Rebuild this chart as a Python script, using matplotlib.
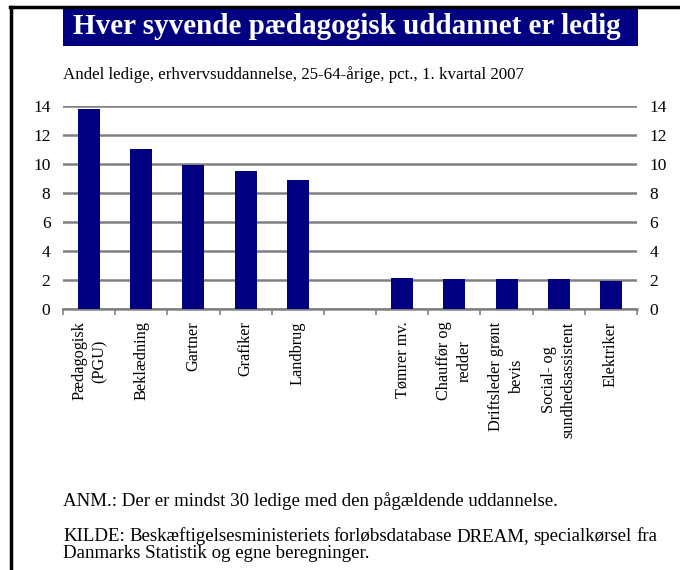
import matplotlib
matplotlib.use('Agg')
import matplotlib.pyplot as plt
from matplotlib.lines import Line2D
from matplotlib.patches import Rectangle
import numpy as np

# data
categories = ['Pædagogisk\n(PGU)', 'Beklædning', 'Gartner', 'Grafiker', 'Landbrug', '',
              'Tømrer mv.', 'Chauffør og\nredder', 'Driftsleder grønt\nbevis',
              'Social- og\nsundhedsassistent', 'Elektriker']
values = [13.8, 11.0, 9.9, 9.5, 8.9, np.nan, 2.15, 2.1, 2.1, 2.05, 1.95]
yticks = [0, 2, 4, 6, 8, 10, 12, 14]

title = 'Hver syvende pædagogisk uddannet er ledig'
subtitle = 'Andel ledige, erhvervsuddannelse, 25-64-årige, pct., 1. kvartal 2007'
note = 'ANM.: Der er mindst 30 ledige med den pågældende uddannelse.'
source1 = 'KILDE: Beskæftigelsesministeriets forløbsdatabase DREAM, specialkørsel fra'
source2 = 'Danmarks Statistik og egne beregninger.'

NAVY = '#000080'
GRID = '#808080'
W, H = 680, 570

plt.rcParams['font.family'] = ['Liberation Serif', 'DejaVu Serif']

fig = plt.figure(figsize=(W / 100, H / 100), dpi=100)

# frame: top and left black rules
fig.add_artist(Line2D([10 / W, 1], [1 - 6.5 / H, 1 - 6.5 / H], color='black', lw=2.5,
                      transform=fig.transFigure))
fig.add_artist(Line2D([11 / W, 11 / W], [0, 1 - 6.5 / H], color='black', lw=2.5,
                      transform=fig.transFigure))

# title box
fig.add_artist(Rectangle((63 / W, 1 - 46 / H), (638 - 63) / W, 38 / H,
                         facecolor=NAVY, edgecolor='none', transform=fig.transFigure))
fig.text(73 / W, 1 - 27 / H, title, color='white', fontsize=21, fontweight='bold',
         va='center', ha='left')
fig.text(63 / W, 1 - 75 / H, subtitle, fontsize=12.2, va='center', ha='left')

ax = fig.add_axes([63 / W, 1 - 309 / H, (637 - 63) / W, (309 - 105.7) / H])
x = np.arange(len(categories))
ax.bar(x, values, width=0.42, color=NAVY, zorder=3)

ax.set_xlim(-0.5, len(categories) - 0.5)
ax.set_ylim(0, 14)
ax.set_yticks(yticks)
ax.yaxis.grid(True, color=GRID, lw=1.8, zorder=0)
ax.tick_params(axis='y', length=0, labelsize=12.5, pad=9, labelright=True, right=False)

ax.set_xticks(x)
ax.set_xticklabels(categories, rotation=90, fontsize=11.7, va='top', ha='center',
                   multialignment='center', linespacing=1.35)
ax.set_xticks(np.arange(len(categories) + 1) - 0.5, minor=True)
ax.tick_params(axis='x', which='major', length=0, pad=9)
ax.tick_params(axis='x', which='minor', length=4, width=1.2, color=GRID, direction='out')

for s in ['top', 'left', 'right']:
    ax.spines[s].set_visible(False)
ax.spines['bottom'].set_color(GRID)
ax.spines['bottom'].set_linewidth(1.8)

fs_note = 13.6
fig.text(63 / W, 1 - 506 / H, note, fontsize=fs_note, va='baseline', ha='left')

# justified first source line
renderer = fig.canvas.get_renderer()
words = source1.split(' ')
left, right = 63, 657
ytxt = 1 - 541 / H
arts = [fig.text(0, ytxt, w, fontsize=fs_note, va='baseline', ha='left') for w in words]
widths = [a.get_window_extent(renderer).width for a in arts]
gap = (right - left - sum(widths)) / (len(words) - 1)
pos = left
for a, wd in zip(arts, widths):
    a.set_x(pos / W)
    pos += wd + gap
fig.text(63 / W, 1 - 558 / H, source2, fontsize=fs_note, va='baseline', ha='left')

fig.savefig('out.png', dpi=100)
